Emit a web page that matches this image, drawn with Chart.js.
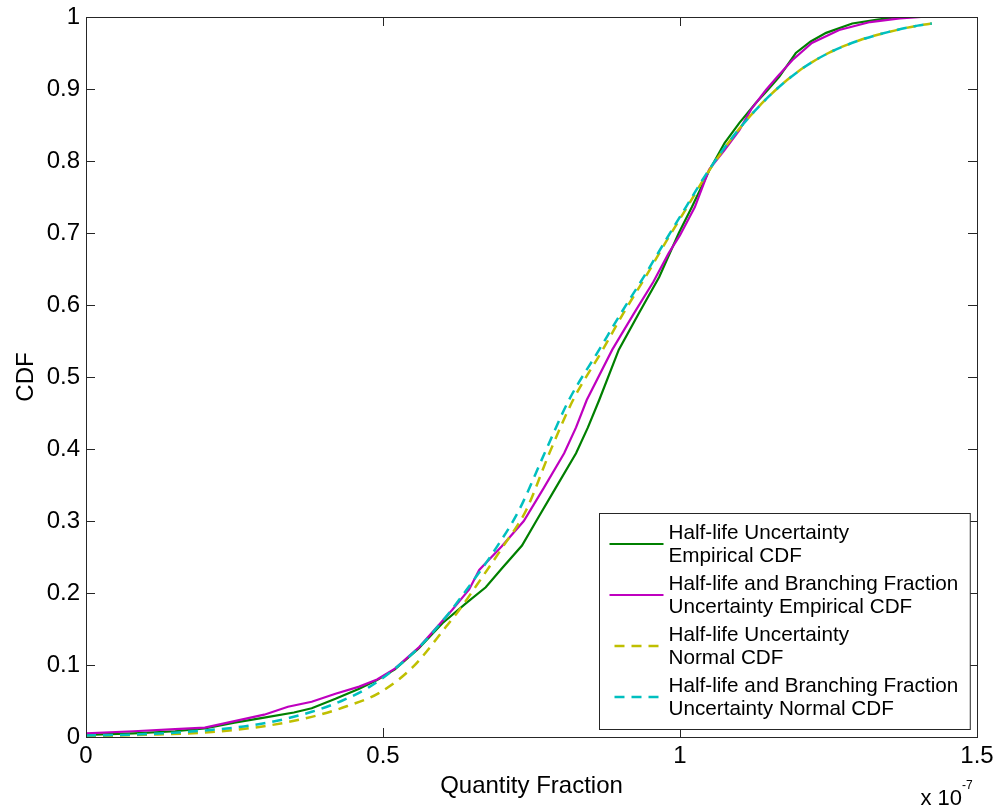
<!DOCTYPE html>
<html>
<head>
<meta charset="utf-8">
<title>CDF</title>
<script src="https://cdn.jsdelivr.net/npm/chart.js@4.4.0/dist/chart.umd.min.js"></script>
<style>
    html, body { margin: 0; padding: 0; background: #fff; }
    #wrap { width: 1000px; height: 809px; }
</style>
</head>
<body>
<div id="wrap"><canvas id="cdfChart" width="1000" height="809"></canvas></div>
<script>
// x values are in units of 1e-7 (axis shows "x 10^-7")
const hlEmpirical = [
    [0, 0.003], [0.08, 0.005], [0.15, 0.008], [0.2, 0.012], [0.25, 0.02], [0.3, 0.027],
    [0.35, 0.034], [0.38, 0.04], [0.42, 0.053], [0.46, 0.067], [0.49, 0.079], [0.52, 0.094],
    [0.56, 0.123], [0.6, 0.158], [0.64, 0.186], [0.673, 0.208], [0.7, 0.234], [0.734, 0.266],
    [0.758, 0.3], [0.79, 0.345], [0.825, 0.394], [0.845, 0.43], [0.864, 0.468], [0.897, 0.538],
    [0.931, 0.589], [0.965, 0.639], [0.998, 0.7], [1.02, 0.736], [1.05, 0.788], [1.075, 0.825],
    [1.1, 0.853], [1.128, 0.881], [1.145, 0.896], [1.167, 0.917], [1.195, 0.95], [1.22, 0.966],
    [1.246, 0.978], [1.29, 0.991], [1.33, 0.996], [1.357, 0.999], [1.38, 1.0]
];
const hlbfEmpirical = [
    [0, 0.005], [0.08, 0.008], [0.15, 0.011], [0.2, 0.013], [0.25, 0.022], [0.3, 0.031],
    [0.34, 0.042], [0.38, 0.049], [0.42, 0.06], [0.46, 0.07], [0.49, 0.08], [0.52, 0.095],
    [0.561, 0.125], [0.616, 0.176], [0.645, 0.205], [0.662, 0.232], [0.7, 0.265], [0.737, 0.3],
    [0.77, 0.345], [0.805, 0.394], [0.825, 0.43], [0.843, 0.468], [0.886, 0.538], [0.923, 0.589],
    [0.955, 0.632], [0.981, 0.672], [1.0, 0.697], [1.025, 0.736], [1.049, 0.788], [1.075, 0.815],
    [1.1, 0.843], [1.12, 0.872], [1.145, 0.899], [1.165, 0.918], [1.189, 0.94], [1.222, 0.964],
    [1.268, 0.982], [1.32, 0.993], [1.37, 0.998], [1.406, 1.0]
];
const hlNormal = [
    [0, 0.001], [0.1, 0.003], [0.212, 0.007], [0.3, 0.015], [0.38, 0.028], [0.44, 0.043],
    [0.493, 0.061], [0.55, 0.097], [0.606, 0.153], [0.628, 0.176], [0.667, 0.222], [0.7, 0.262],
    [0.741, 0.315], [0.78, 0.394], [0.82, 0.468], [0.87, 0.538], [0.905, 0.589], [0.942, 0.639],
    [0.978, 0.69], [1.012, 0.736], [1.05, 0.788], [1.1, 0.845], [1.15, 0.89], [1.2, 0.925],
    [1.25, 0.95], [1.3, 0.967], [1.35, 0.979], [1.4, 0.988], [1.424, 0.991]
];
const hlbfNormal = [
    [0, 0.002], [0.1, 0.004], [0.2, 0.009], [0.3, 0.019], [0.38, 0.035], [0.43, 0.05],
    [0.476, 0.069], [0.52, 0.095], [0.561, 0.125], [0.606, 0.167], [0.65, 0.215], [0.69, 0.262],
    [0.729, 0.315], [0.772, 0.394], [0.813, 0.468], [0.864, 0.538], [0.901, 0.589], [0.939, 0.639],
    [0.976, 0.69], [1.01, 0.736], [1.049, 0.788], [1.1, 0.845], [1.15, 0.89], [1.2, 0.925],
    [1.25, 0.95], [1.3, 0.967], [1.35, 0.979], [1.4, 0.988], [1.424, 0.991]
];

const legendLabels = [
    ['Half-life Uncertainty', 'Empirical CDF'],
    ['Half-life and Branching Fraction', 'Uncertainty Empirical CDF'],
    ['Half-life Uncertainty', 'Normal CDF'],
    ['Half-life and Branching Fraction', 'Uncertainty Normal CDF']
];
const seriesColors = ['#008000', '#bf00bf', '#bfbf00', '#00bfbf'];
const xTicks = [0, 0.5, 1, 1.5];
const yTicks = [0, 0.1, 0.2, 0.3, 0.4, 0.5, 0.6, 0.7, 0.8, 0.9, 1];

const FONT = '"Liberation Sans", Arial, Helvetica, sans-serif';
const toXY = arr => arr.map(p => ({ x: p[0], y: p[1] }));

// MATLAB style box, inward ticks, exponent label and the legend
const matlabAxes = {
    id: 'matlabAxes',
    afterDatasetsDraw(chart) {
        const { ctx, chartArea: a, scales: { x, y } } = chart;
        const tick = 9;
        ctx.save();
        ctx.strokeStyle = '#262626';
        ctx.lineWidth = 1;
        ctx.beginPath();
        x.ticks.forEach(t => {
            const px = Math.round(x.getPixelForValue(t.value)) + 0.5;
            ctx.moveTo(px, a.bottom); ctx.lineTo(px, a.bottom - tick);
            ctx.moveTo(px, a.top); ctx.lineTo(px, a.top + tick);
        });
        y.ticks.forEach(t => {
            const py = Math.round(y.getPixelForValue(t.value)) + 0.5;
            ctx.moveTo(a.left, py); ctx.lineTo(a.left + tick, py);
            ctx.moveTo(a.right, py); ctx.lineTo(a.right - tick, py);
        });
        ctx.stroke();
        ctx.strokeRect(Math.round(a.left) + 0.5, Math.round(a.top) + 0.5,
            Math.round(a.right - a.left), Math.round(a.bottom - a.top));

        // exponent
        ctx.fillStyle = '#000';
        ctx.font = '22px ' + FONT;
        ctx.textAlign = 'right';
        ctx.textBaseline = 'alphabetic';
        ctx.fillText('x 10', a.right - 15, 805);
        ctx.font = '12px ' + FONT;
        ctx.textAlign = 'left';
        ctx.fillText('-7', a.right - 15, 789);

        // legend
        const lh = 23.5, gap = 4;
        ctx.font = '20.7px ' + FONT;
        let tw = 0;
        legendLabels.forEach(l => l.forEach(s => { tw = Math.max(tw, ctx.measureText(s).width); }));
        const w = tw + 72 + 9;
        const h = legendLabels.length * (2 * lh + gap) + 12;
        const lx = Math.round(a.right - 7 - w) + 0.5;
        const ly = Math.round(a.bottom - 8 - h) + 0.5;
        ctx.fillStyle = '#fff';
        ctx.fillRect(lx, ly, w, h);
        ctx.strokeStyle = '#262626';
        ctx.strokeRect(lx, ly, w, h);
        chart.data.datasets.forEach((ds, i) => {
            const top = ly + 7 + i * (2 * lh + gap);
            const mid = top + lh;
            ctx.save();
            ctx.strokeStyle = ds.borderColor;
            ctx.lineWidth = ds.borderWidth;
            ctx.setLineDash(ds.borderDash || []);
            ctx.beginPath();
            ctx.moveTo(lx + (ds.borderDash ? 15 : 10), mid);
            ctx.lineTo(lx + 64, mid);
            ctx.stroke();
            ctx.restore();
            ctx.fillStyle = '#000';
            ctx.textAlign = 'left';
            ctx.textBaseline = 'middle';
            legendLabels[i].forEach((s, k) => {
                ctx.fillText(s, lx + 69, top + lh / 2 + k * lh + 1);
            });
        });
        ctx.restore();
    }
};

const makeSet = (label, pts, color, dashed, order) => ({
    label: label.join(' '),
    data: toXY(pts),
    borderColor: color,
    borderWidth: dashed ? 2.5 : 2.2,
    borderDash: dashed ? [10, 7] : undefined,
    pointRadius: 0,
    fill: false,
    tension: 0,
    cubicInterpolationMode: dashed ? 'monotone' : 'default',
    order: order
});

const ctx = document.getElementById('cdfChart').getContext('2d');
new Chart(ctx, {
    type: 'line',
    data: {
        datasets: [
            makeSet(legendLabels[0], hlEmpirical, seriesColors[0], false, 4),
            makeSet(legendLabels[1], hlbfEmpirical, seriesColors[1], false, 3),
            makeSet(legendLabels[2], hlNormal, seriesColors[2], true, 2),
            makeSet(legendLabels[3], hlbfNormal, seriesColors[3], true, 1)
        ]
    },
    options: {
        responsive: false,
        animation: false,
        layout: { padding: { left: 0, top: 17, right: 23, bottom: 0 } },
        plugins: {
            legend: { display: false },
            tooltip: { enabled: false }
        },
        scales: {
            x: {
                type: 'linear',
                min: 0,
                max: 1.5,
                afterBuildTicks: s => { s.ticks = xTicks.map(v => ({ value: v })); },
                afterFit: s => { s.height = 72; s.paddingLeft = 0; s.paddingRight = 0; },
                grid: { display: false, drawTicks: false },
                border: { display: false },
                ticks: {
                    color: '#000',
                    font: { family: FONT, size: 24 },
                    padding: 5,
                    maxRotation: 0,
                    callback: v => String(v)
                },
                title: {
                    display: true,
                    text: 'Quantity Fraction',
                    color: '#000',
                    font: { family: FONT, size: 24 },
                    padding: { top: 0, bottom: 8 }
                }
            },
            y: {
                min: 0,
                max: 1,
                afterBuildTicks: s => { s.ticks = yTicks.map(v => ({ value: v })); },
                afterFit: s => { s.width = 86; s.paddingTop = 0; s.paddingBottom = 0; },
                grid: { display: false, drawTicks: false },
                border: { display: false },
                ticks: {
                    color: '#000',
                    font: { family: FONT, size: 24 },
                    padding: 6,
                    callback: v => (v === 0 || v === 1) ? String(v) : v.toFixed(1)
                },
                title: {
                    display: true,
                    text: 'CDF',
                    color: '#000',
                    font: { family: FONT, size: 24 },
                    padding: { top: 12, bottom: 0 }
                }
            }
        }
    },
    plugins: [matlabAxes]
});
</script>
</body>
</html>
